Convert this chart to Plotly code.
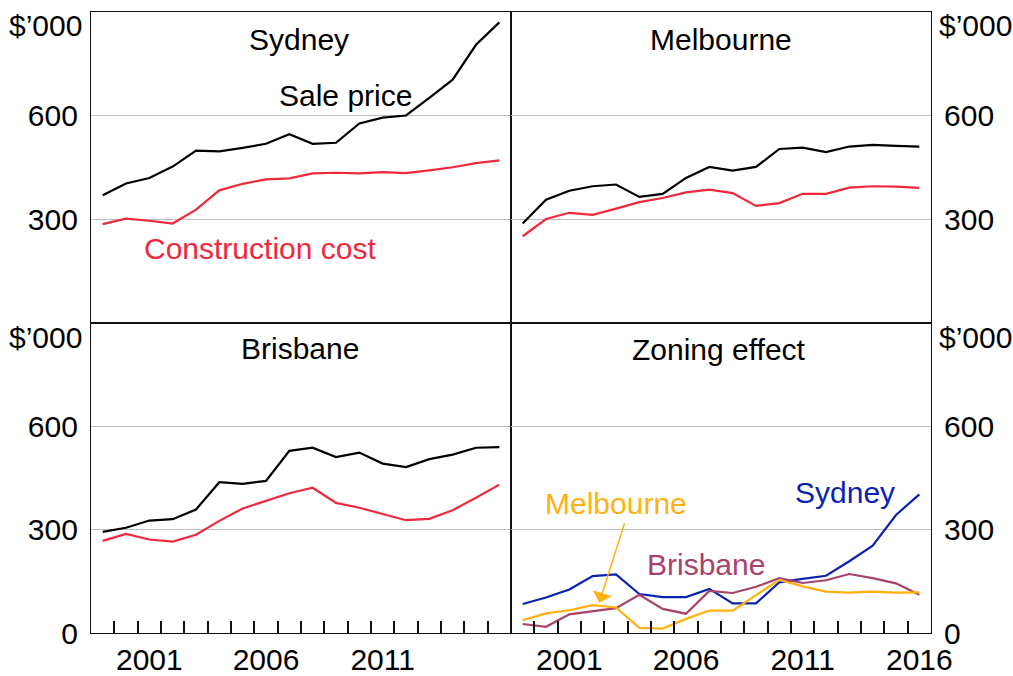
import plotly.graph_objects as go
from plotly.subplots import make_subplots

years = list(range(1999, 2017))

syd_sale = [369, 403, 419, 452, 498, 496, 506, 518, 546, 518, 521, 577, 594, 600, 651, 704, 805, 870]
syd_cost = [285, 301, 295, 287, 327, 383, 402, 415, 418, 432, 434, 432, 436, 433, 441, 450, 462, 470]
mel_sale = [287, 356, 382, 395, 400, 364, 373, 419, 451, 440, 451, 503, 507, 494, 510, 515, 512, 510]
mel_cost = [250, 300, 318, 312, 330, 349, 361, 377, 385, 375, 338, 346, 373, 373, 391, 395, 394, 390]
bri_sale = [293, 305, 326, 330, 358, 437, 432, 441, 528, 537, 510, 523, 491, 481, 504, 517, 537, 539]
bri_cost = [267, 287, 271, 265, 285, 325, 361, 384, 405, 421, 377, 363, 346, 327, 331, 356, 392, 430]
zone_syd = [84, 103, 126, 165, 170, 113, 104, 104, 128, 86, 86, 147, 157, 166, 208, 253, 342, 402]
zone_mel = [37, 57, 66, 81, 74, 15, 13, 41, 65, 65, 110, 154, 135, 120, 117, 120, 117, 118]
zone_bri = [26, 18, 54, 64, 72, 111, 70, 56, 122, 116, 134, 159, 145, 153, 171, 159, 144, 111]

x_labels_left = [2001, 2006, 2011]
x_labels_right = [2001, 2006, 2011, 2016]
y_ticks_top = [300, 600]
y_ticks_bottom = [0, 300, 600]
unit_label = "$\u2019000"

BLACK = "#000000"
RED = "#F0283C"
BLUE = "#0A22B0"
ORANGE = "#FFB10F"
PURPLE = "#A8416C"
FONT = "Liberation Sans, Arial, sans-serif"
FS = 30

W, H = 1013, 676
ML, MR, MT, MB = 91, 82, 12, 43

fig = make_subplots(rows=2, cols=2, horizontal_spacing=0, vertical_spacing=0)

lw = 2.2
fig.add_trace(go.Scatter(x=years, y=syd_sale, mode="lines", line=dict(color=BLACK, width=lw)), row=1, col=1)
fig.add_trace(go.Scatter(x=years, y=syd_cost, mode="lines", line=dict(color=RED, width=lw)), row=1, col=1)
fig.add_trace(go.Scatter(x=years, y=mel_sale, mode="lines", line=dict(color=BLACK, width=lw)), row=1, col=2)
fig.add_trace(go.Scatter(x=years, y=mel_cost, mode="lines", line=dict(color=RED, width=lw)), row=1, col=2)
fig.add_trace(go.Scatter(x=years, y=bri_sale, mode="lines", line=dict(color=BLACK, width=lw)), row=2, col=1)
fig.add_trace(go.Scatter(x=years, y=bri_cost, mode="lines", line=dict(color=RED, width=lw)), row=2, col=1)
fig.add_trace(go.Scatter(x=years, y=zone_syd, mode="lines", line=dict(color=BLUE, width=lw)), row=2, col=2)
fig.add_trace(go.Scatter(x=years, y=zone_bri, mode="lines", line=dict(color=PURPLE, width=lw)), row=2, col=2)
fig.add_trace(go.Scatter(x=years, y=zone_mel, mode="lines", line=dict(color=ORANGE, width=lw)), row=2, col=2)

xr = [years[0] - 0.5, years[-1] + 0.5]
minor_vals = [y + 0.5 for y in years[:-1]]

for r in (1, 2):
    for c in (1, 2):
        bottom = r == 2
        labels = (x_labels_left if c == 1 else x_labels_right) if bottom else []
        fig.update_xaxes(
            range=xr, showgrid=False, zeroline=False,
            showline=True, mirror=True, linecolor="#111111", linewidth=1.2,
            tickmode="array", tickvals=labels,
            ticks="",
            showticklabels=bottom,
            tickfont=dict(family=FONT, size=FS, color="#000000"),
            minor=dict(tickmode="array", tickvals=minor_vals, ticks="inside", ticklen=12,
                       tickwidth=1.5, tickcolor="#111111") if bottom else dict(ticks=""),
            row=r, col=c)
        fig.update_yaxes(
            range=[0, 900], zeroline=False,
            showgrid=True, gridcolor="#BDBDBD", gridwidth=1,
            showline=True, mirror=True, linecolor="#111111", linewidth=1.2,
            tickmode="array", tickvals=y_ticks_bottom if bottom else y_ticks_top,
            ticks="", side="left" if c == 1 else "right",
            ticklabelstandoff=6,
            tickfont=dict(family=FONT, size=FS, color="#000000"),
            row=r, col=c)

pw = W - ML - MR
ph = H - MT - MB


def px(xs):
    return (xs - ML) / pw


def py(ys):
    return (H - MB - ys) / ph


annotations = []


def label(text, x, y, color="#000000", xanchor="center"):
    annotations.append(dict(text=text, x=px(x), y=py(y), xref="paper", yref="paper",
                            xanchor=xanchor, yanchor="middle", showarrow=False,
                            font=dict(family=FONT, size=FS, color=color)))


label("Sydney", 299, 40)
label("Sale price", 345, 95)
label("Construction cost", 260, 248, RED)
label("Melbourne", 721, 40)
label("Brisbane", 300, 348)
label("Zoning effect", 719, 349)
label("Melbourne", 615.5, 503, ORANGE)
label("Brisbane", 705.5, 564, PURPLE)
label("Sydney", 845, 492, BLUE)

# unit labels at the top of each panel
for x, y, anchor in [(84, 26, "right"), (937, 26, "left"), (84, 337, "right"), (937, 337, "left")]:
    label(unit_label, x, y, xanchor=anchor)

# arrow from Melbourne label
annotations.append(dict(text="", x=px(599.3), y=py(602.7), xref="paper", yref="paper",
                        ax=25.7, ay=-81, axref="pixel", ayref="pixel",
                        showarrow=True, arrowhead=1, arrowsize=2.2, arrowwidth=1.5,
                        arrowcolor=ORANGE))

fig.update_layout(
    width=W, height=H,
    margin=dict(l=ML, r=MR, t=MT, b=MB, autoexpand=False),
    paper_bgcolor="white", plot_bgcolor="white",
    showlegend=False,
    annotations=annotations,
    font=dict(family=FONT, size=FS, color="#000000"),
)

fig.write_html(
    "out.html",
    config={"displayModeBar": False},
    post_script="document.body.style.margin='0';document.body.style.overflow='hidden';",
)
